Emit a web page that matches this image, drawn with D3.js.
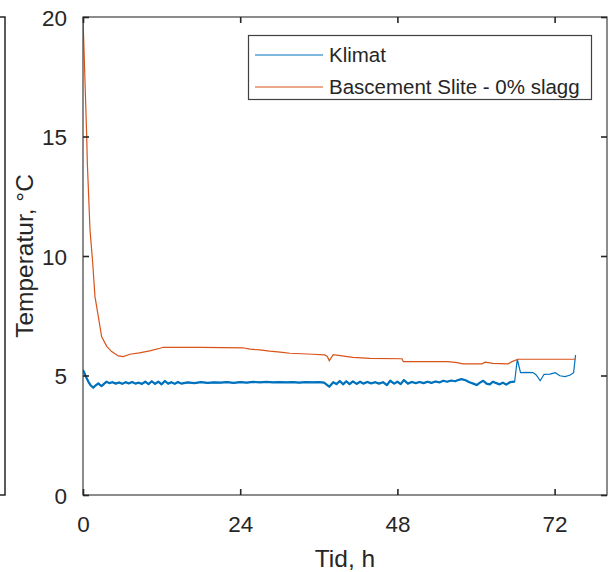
<!DOCTYPE html>
<html>
<head>
<meta charset="utf-8">
<script src="https://cdn.jsdelivr.net/npm/d3@7"></script>
<style>
  body { margin: 0; background: #fff; }
  text { font-family: "Liberation Sans", Arial, sans-serif; fill: #262626; }
</style>
</head>
<body>
<script>
// Klimat (blue)
var klimatHours = [0, 0.3, 0.56, 0.9, 1.2, 1.57, 1.9, 2.34, 2.6, 2.85, 3.2, 3.6, 4.0, 4.5, 5.0, 5.5, 6.0, 6.5, 7.0, 7.5,
  8.0, 8.5, 9.0, 9.5, 10.0, 10.5, 11.0, 11.5, 12.0, 12.5, 13.0, 13.5, 14.0, 14.5, 15, 16, 17, 18, 19, 20,
  21, 22, 23, 24, 25, 26, 27, 28, 29, 30, 31, 32, 33, 34, 35, 36, 36.8, 37.6, 38.2, 38.7,
  39.2, 39.7, 40.2, 40.7, 41.2, 41.8, 42.3, 42.8, 43.4, 44, 44.6, 45.2, 45.8, 46.4, 46.9, 47.5, 48.0, 48.5, 49.0, 49.6,
  50.2, 50.8, 51.4, 52, 52.6, 53.2, 53.8, 54.4, 55, 55.6, 56.2, 56.8, 57.4, 57.8, 58.4, 59.0, 59.6, 60.1, 60.6, 61.1,
  61.6, 62.1, 62.6, 63.1, 63.6, 64.1, 64.6, 65.2, 65.9, 66.3, 66.8, 67.7, 68.7, 69.2, 69.8, 70.4, 71.3, 72.1, 72.8, 73.6,
  74.4, 74.9, 75.2];
var klimatTemp = [5.23, 5.05, 4.88, 4.7, 4.58, 4.49, 4.58, 4.67, 4.6, 4.56, 4.65, 4.74, 4.68, 4.72, 4.66, 4.71, 4.65, 4.72, 4.67, 4.73,
  4.66, 4.7, 4.65, 4.74, 4.64, 4.76, 4.65, 4.74, 4.63, 4.77, 4.66, 4.72, 4.65, 4.73, 4.66, 4.71, 4.68, 4.72, 4.69, 4.71,
  4.7, 4.72, 4.69, 4.72, 4.7, 4.73, 4.71, 4.73, 4.71, 4.72, 4.71, 4.72, 4.7, 4.72, 4.71, 4.72, 4.7, 4.53, 4.72, 4.64,
  4.77, 4.63, 4.76, 4.64, 4.75, 4.65, 4.74, 4.66, 4.73, 4.67, 4.72, 4.66, 4.72, 4.6, 4.78, 4.66, 4.74, 4.64, 4.81, 4.66,
  4.73, 4.68, 4.73, 4.68, 4.74, 4.69, 4.75, 4.71, 4.78, 4.74, 4.79, 4.76, 4.82, 4.85, 4.8, 4.72, 4.66, 4.6, 4.7, 4.78,
  4.66, 4.63, 4.74, 4.68, 4.63, 4.7, 4.62, 4.72, 4.74, 5.68, 5.12, 5.13, 5.12, 5.02, 4.78, 5.05, 5.06, 5.12, 4.99, 4.95,
  5.02, 5.12, 5.86];

// Bascement Slite - 0% slagg (orange)
var slagHours = [0, 0.56, 0.66, 1.07, 1.48, 1.83, 2.34, 2.85, 3.65, 4.38, 5.39, 6.15, 7.18, 8.6, 10.2, 11.76, 12.24, 18, 24.4, 25.5,
  27.0, 28.5, 30.1, 31.6, 35.1, 36.9, 37.3, 37.6, 38.2, 41.2, 43.8, 48.7, 48.9, 55.7, 57.1, 58.0, 60.9, 61.4, 62.6, 64.9,
  65.5, 66.2, 66.3, 75.2];
var slagTemp = [20, 15.06, 13.9, 11.09, 9.71, 8.30, 7.46, 6.62, 6.21, 6.00, 5.82, 5.79, 5.89, 5.95, 6.03, 6.14, 6.18, 6.18, 6.16, 6.1,
  6.07, 6.02, 5.98, 5.93, 5.89, 5.86, 5.8, 5.62, 5.87, 5.76, 5.72, 5.70, 5.58, 5.58, 5.54, 5.49, 5.49, 5.56, 5.51, 5.49,
  5.58, 5.66, 5.68, 5.68];

var xTicks = [0, 24, 48, 72];
var yTicks = [0, 5, 10, 15, 20];
var seriesNames = ["Klimat", "Bascement Slite - 0% slagg"];
var seriesColors = ["#0072BD", "#D95319"];

var W = 609, H = 572;
var margin = {top: 17, right: 2, bottom: 77, left: 83};
var width = W - margin.left - margin.right;
var height = H - margin.top - margin.bottom;

var svg = d3.select("body").append("svg")
  .attr("width", W)
  .attr("height", H);

// edge of the neighbouring panel on the left
svg.append("path")
  .attr("d", "M0,17H5V495H0")
  .attr("fill", "none")
  .attr("stroke", "#262626")
  .attr("stroke-width", 1.5);

var g = svg.append("g")
  .attr("transform", "translate(" + margin.left + "," + margin.top + ")");

var x = d3.scaleLinear().domain([0, 80]).range([0, width]);
var y = d3.scaleLinear().domain([0, 20]).range([height, 0]);

g.append("clipPath").attr("id", "clip")
  .append("rect").attr("width", width).attr("height", height);

var klimat = klimatHours.map(function(h, i) { return [h, klimatTemp[i]]; });
var slag = slagHours.map(function(h, i) { return [h, slagTemp[i]]; });

var line = d3.line()
  .x(function(d) { return x(d[0]); })
  .y(function(d) { return y(d[1]); });

var lines = g.append("g").attr("clip-path", "url(#clip)");

// noisy part of the climate series reads thicker
lines.append("path")
  .datum(klimat.filter(function(d) { return d[0] <= 65.9; }))
  .attr("d", line)
  .attr("fill", "none")
  .attr("stroke", seriesColors[0])
  .attr("stroke-width", 2.2)
  .attr("stroke-linejoin", "round");

lines.append("path")
  .datum(klimat)
  .attr("d", line)
  .attr("fill", "none")
  .attr("stroke", seriesColors[0])
  .attr("stroke-width", 1.2);

lines.append("path")
  .datum(slag)
  .attr("d", line)
  .attr("fill", "none")
  .attr("stroke", seriesColors[1])
  .attr("stroke-width", 1.2);

// box
g.append("rect")
  .attr("width", width)
  .attr("height", height)
  .attr("fill", "none")
  .attr("stroke", "#404040")
  .attr("stroke-width", 1.2);

// axes, ticks pointing inward
var xAxis = g.append("g")
  .attr("transform", "translate(0," + height + ")")
  .call(d3.axisBottom(x).tickValues(xTicks).tickSizeInner(-6).tickSizeOuter(0).tickPadding(30));
var xTop = g.append("g")
  .call(d3.axisTop(x).tickValues(xTicks).tickSizeInner(-6).tickSizeOuter(0).tickFormat(""));
var yAxis = g.append("g")
  .call(d3.axisLeft(y).tickValues(yTicks).tickSizeInner(-6).tickSizeOuter(0).tickPadding(16));
var yRight = g.append("g")
  .attr("transform", "translate(" + width + ",0)")
  .call(d3.axisRight(y).tickValues(yTicks).tickSizeInner(-6).tickSizeOuter(0).tickFormat(""));

[xAxis, xTop, yAxis, yRight].forEach(function(a) {
  a.select(".domain").remove();
  a.selectAll(".tick line").attr("stroke", "#262626").attr("stroke-width", 1.6);
  a.selectAll("text")
    .style("font-family", "Liberation Sans, Arial, sans-serif")
    .style("font-size", "22.5px")
    .attr("fill", "#262626");
});
xAxis.selectAll("text").attr("dy", "0").attr("y", 37);
yAxis.selectAll("text").attr("dy", "0.36em");

// axis labels
svg.append("text")
  .attr("x", margin.left + width / 2)
  .attr("y", 567)
  .attr("text-anchor", "middle")
  .style("font-size", "24.5px")
  .text("Tid, h");

svg.append("text")
  .attr("transform", "translate(33," + (margin.top + height / 2) + ") rotate(-90)")
  .attr("text-anchor", "middle")
  .style("font-size", "24.5px")
  .text("Temperatur, \u00B0C");

// legend
var legend = svg.append("g");
legend.append("rect")
  .attr("x", 248.5).attr("y", 35.5)
  .attr("width", 343).attr("height", 64)
  .attr("fill", "#fff")
  .attr("stroke", "#404040")
  .attr("stroke-width", 1.2);

seriesNames.forEach(function(name, i) {
  var ly = 55 + i * 32;
  legend.append("line")
    .attr("x1", 255).attr("x2", 323)
    .attr("y1", ly).attr("y2", ly)
    .attr("stroke", seriesColors[i])
    .attr("stroke-width", 1.2);
  legend.append("text")
    .attr("x", 329).attr("y", ly)
    .attr("dy", "0.36em")
    .style("font-size", "20.5px")
    .attr("fill", "#000")
    .text(name);
});
</script>
</body>
</html>
